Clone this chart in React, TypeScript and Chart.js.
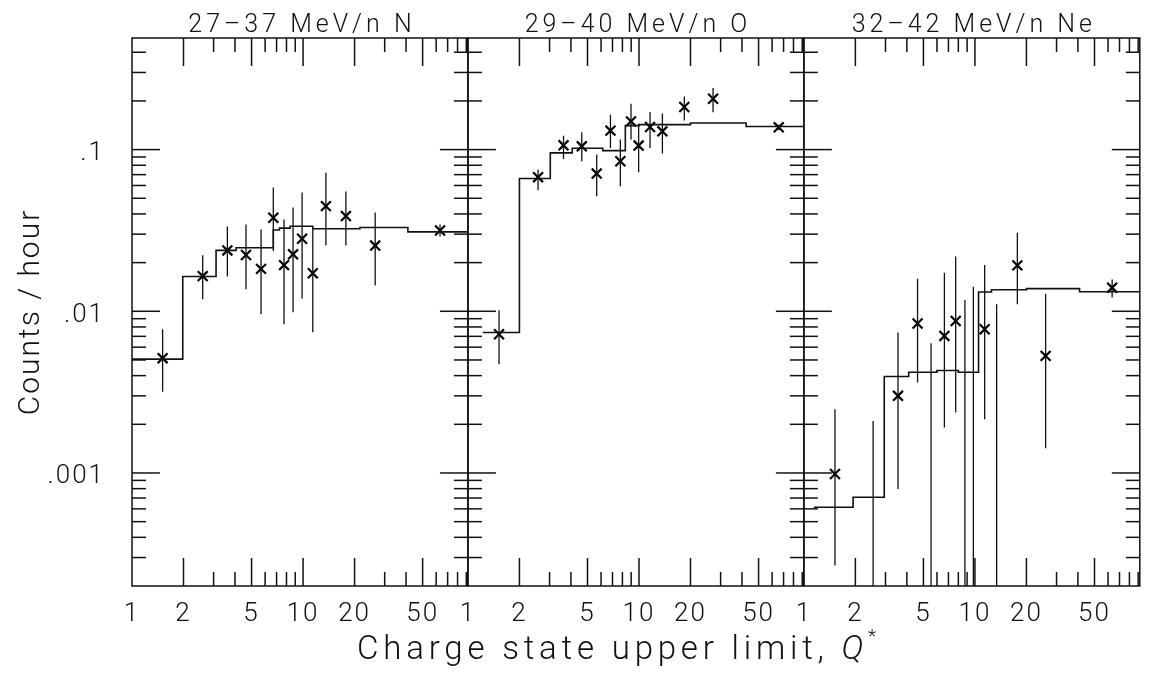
import React, { useEffect, useRef } from 'react';
import { Chart, registerables } from 'chart.js';

Chart.register(...registerables);

// ---------- axes / labels ----------
const panelTitles = ['27–37 MeV/n N', '29–40 MeV/n O', '32–42 MeV/n Ne'];
const xTickValues = [1, 2, 5, 10, 20, 50];
const yTickValues = [0.1, 0.01, 0.001];
const yTickLabels = ['.1', '.01', '.001'];
const yAxisTitle = 'Counts / hour';
const xAxisTitleMain = 'Charge state upper limit, ';
const xAxisTitleSymbol = 'Q';
const xAxisTitleSup = '*';
const X_MIN = 1;
const X_MAX = 92;
const Y_MIN = 0.0002;
const Y_MAX = 0.49;

// ---------- panel 1: 27-37 MeV/n N ----------
const nQ = [1.51, 2.59, 3.61, 4.64, 5.68, 6.7, 7.74, 8.74, 9.87, 11.4, 13.6, 17.8, 26.4, 63.2];
const nRate = [0.00513, 0.0165, 0.0238, 0.0223, 0.0183, 0.0379, 0.0193, 0.0225, 0.0281, 0.0172, 0.0447, 0.0388, 0.0255, 0.0316];
const nHigh = [0.00774, 0.0222, 0.0335, 0.0344, 0.0321, 0.0582, 0.037, 0.0439, 0.0543, 0.0325, 0.072, 0.0551, 0.0408, 0.0344];
const nLow = [0.00318, 0.01186, 0.01644, 0.01368, 0.00958, 0.0236, 0.00832, 0.00986, 0.012, 0.00742, 0.0255, 0.0255, 0.01446, 0.029];
const nStepEdges = [1, 1.98, 3.1, 4.06, 6.7, 7.27, 8.4, 11.4, 21.5, 41, 92];
const nStepLevels = [0.00506, 0.0164, 0.0238, 0.0247, 0.0318, 0.0327, 0.0336, 0.0324, 0.033, 0.031];

// ---------- panel 2: 29-40 MeV/n O ----------
const oQ = [1.52, 2.57, 3.62, 4.63, 5.66, 6.81, 7.78, 8.98, 9.95, 11.6, 13.7, 18.4, 27.1, 65.6];
const oRate = [0.00721, 0.0675, 0.1063, 0.1048, 0.0711, 0.131, 0.0847, 0.1495, 0.1059, 0.138, 0.1297, 0.1835, 0.2064, 0.1373];
const oHigh = [0.01014, 0.0753, 0.122, 0.128, 0.0931, 0.164, 0.1153, 0.192, 0.1446, 0.171, 0.167, 0.213, 0.24, 0.1427];
const oLow = [0.00471, 0.0561, 0.0876, 0.0847, 0.0515, 0.1024, 0.0593, 0.1153, 0.0724, 0.1024, 0.0945, 0.1516, 0.17, 0.1316];
const oStepEdges = [1.22, 2, 3.03, 4.07, 6.14, 8.32, 10, 20, 42.3, 92];
const oStepLevels = [0.00739, 0.0662, 0.0954, 0.102, 0.0985, 0.1406, 0.1427, 0.146, 0.139];

// ---------- panel 3: 32-42 MeV/n Ne ----------
const neQ = [1.52, 3.55, 4.62, 6.63, 7.72, 11.4, 17.7, 25.9, 63.4];
const neRate = [0.000986, 0.003, 0.0084, 0.00704, 0.00871, 0.00774, 0.01923, 0.0053, 0.014];
const neHigh = [0.00248, 0.0074, 0.0159, 0.01734, 0.0218, 0.0193, 0.0306, 0.01286, 0.01575];
const neLow = [0.000268, 0.000796, 0.00363, 0.00191, 0.00237, 0.00215, 0.01104, 0.00142, 0.01215];
// bins without a plotted rate: error bar runs down past the axis floor
const neEmptyQ = [2.54, 5.54, 8.74, 9.79, 13.4];
const neEmptyHigh = [0.0021, 0.00635, 0.01175, 0.0142, 0.01104];
const neEmptyLow = [0.00005, 0.00005, 0.00005, 0.00005, 0.00005];
const neStepEdges = [1.145, 1.94, 2.95, 4.1, 6, 8, 10.5, 12.5, 20, 40.9, 92];
const neStepLevels = [0.000614, 0.000708, 0.00395, 0.0042, 0.0043, 0.0042, 0.01316, 0.0136, 0.0138, 0.0132];

const FONT = 'Roboto, "DejaVu Sans", sans-serif';
const INK = '#111';

type Pt = { x: number; y: number | null };

function stepPoints(edges: number[], levels: number[]): Pt[] {
  const pts: Pt[] = levels.map((l, i) => ({ x: edges[i], y: l }));
  pts.push({ x: edges[edges.length - 1], y: levels[levels.length - 1] });
  return pts;
}
function barPoints(q: number[], lo: number[], hi: number[]): Pt[] {
  const pts: Pt[] = [];
  q.forEach((x, i) => {
    pts.push({ x, y: lo[i] }, { x, y: hi[i] }, { x, y: null });
  });
  return pts;
}
function markPoints(q: number[], r: number[]): Pt[] {
  return q.map((x, i) => ({ x, y: r[i] }));
}

function panelDatasets(axis: string, q: number[], r: number[], lo: number[], hi: number[], edges: number[], levels: number[]) {
  return [
    {
      label: axis + '-model',
      xAxisID: axis,
      yAxisID: 'y',
      data: stepPoints(edges, levels),
      stepped: 'before',
      borderColor: INK,
      borderWidth: 1.6,
      pointRadius: 0,
      fill: false,
    },
    {
      label: axis + '-err',
      xAxisID: axis,
      yAxisID: 'y',
      data: barPoints(q, lo, hi),
      borderColor: INK,
      borderWidth: 1.3,
      pointRadius: 0,
      spanGaps: false,
      fill: false,
    },
    {
      label: axis + '-pts',
      xAxisID: axis,
      yAxisID: 'y',
      data: markPoints(q, r),
      showLine: false,
      pointStyle: 'crossRot',
      pointRadius: 7,
      pointBorderWidth: 2.2,
      pointBorderColor: '#000',
      borderColor: '#000',
    },
  ];
}

const panelIds = ['x1', 'x2', 'x3'];

const framePlugin = {
  id: 'panelFrames',
  beforeDraw(chart: any) {
    chart.ctx.letterSpacing = '2px';
  },
  afterDatasetsDraw(chart: any) {
    const ctx = chart.ctx as CanvasRenderingContext2D;
    const ys = chart.scales.y;
    ctx.save();
    ctx.letterSpacing = '0px';
    ctx.strokeStyle = INK;
    ctx.lineWidth = 1.5;
    const seg = (a: number, b: number, c: number, d: number) => {
      ctx.beginPath();
      ctx.moveTo(a, b);
      ctx.lineTo(c, d);
      ctx.stroke();
    };
    panelIds.forEach((id) => {
      const xs = chart.scales[id];
      const L = xs.left, R = xs.right, T = ys.top, B = ys.bottom;
      ctx.strokeRect(L, T, R - L, B - T);
      for (let d = 0; d <= 1; d++) {
        for (let m = 1; m <= 9; m++) {
          const v = m * Math.pow(10, d);
          if (v <= X_MIN || v >= X_MAX) continue;
          const px = xs.getPixelForValue(v);
          const len = m === 1 || m === 2 || m === 5 ? 28 : 14;
          seg(px, B, px, B - len);
          seg(px, T, px, T + len);
        }
      }
      for (let d = -4; d <= 0; d++) {
        for (let m = 1; m <= 9; m++) {
          const v = m * Math.pow(10, d);
          if (v <= Y_MIN || v >= Y_MAX) continue;
          const py = ys.getPixelForValue(v);
          const len = m === 1 ? 28 : 14;
          seg(L, py, L + len, py);
          seg(R, py, R - len, py);
        }
      }
    });
    ctx.restore();
  },
  afterDraw(chart: any) {
    const ctx = chart.ctx as CanvasRenderingContext2D;
    ctx.save();
    ctx.fillStyle = INK;
    // panel titles
    ctx.font = `300 25px ${FONT}`;
    ctx.letterSpacing = '4px';
    ctx.textAlign = 'center';
    ctx.textBaseline = 'alphabetic';
    panelIds.forEach((id, i) => {
      const xs = chart.scales[id];
      ctx.fillText(panelTitles[i], (xs.left + xs.right) / 2 + 2, 32);
    });
    // x axis title
    ctx.textAlign = 'left';
    ctx.letterSpacing = '4.8px';
    const mainFont = `300 33px ${FONT}`;
    const symFont = `italic 300 33px ${FONT}`;
    const supFont = `300 19px ${FONT}`;
    ctx.font = mainFont;
    const w1 = ctx.measureText(xAxisTitleMain).width;
    ctx.font = symFont;
    const w2 = ctx.measureText(xAxisTitleSymbol).width;
    ctx.font = supFont;
    const w3 = ctx.measureText(xAxisTitleSup).width;
    const cx = 619;
    let x0 = cx - (w1 + w2 + w3) / 2;
    const base = 659;
    ctx.font = mainFont;
    ctx.fillText(xAxisTitleMain, x0, base);
    x0 += w1;
    ctx.font = symFont;
    ctx.fillText(xAxisTitleSymbol, x0, base);
    x0 += w2;
    ctx.font = supFont;
    ctx.fillText(xAxisTitleSup, x0, base - 17);
    ctx.restore();
  },
};

function xScale() {
  return {
    type: 'logarithmic',
    position: 'bottom',
    stack: 'panels',
    stackWeight: 1,
    min: X_MIN,
    max: X_MAX,
    grid: { display: false },
    border: { display: false },
    afterBuildTicks: (s: any) => {
      s.ticks = xTickValues.map((v) => ({ value: v }));
    },
    afterFit: (s: any) => {
      s.height = 94;
    },
    ticks: {
      autoSkip: false,
      maxRotation: 0,
      minRotation: 0,
      padding: 5,
      color: INK,
      font: { family: FONT, size: 26, weight: '300' },
      callback: (v: number) => String(v),
    },
  };
}

export default function App() {
  const ref = useRef<HTMLCanvasElement>(null);
  useEffect(() => {
    const canvas = ref.current;
    if (!canvas) return;
    const datasets = [
      ...panelDatasets('x1', nQ, nRate, nLow, nHigh, nStepEdges, nStepLevels),
      ...panelDatasets('x2', oQ, oRate, oLow, oHigh, oStepEdges, oStepLevels),
      ...panelDatasets('x3', neQ, neRate, neLow, neHigh, neStepEdges, neStepLevels),
      {
        label: 'x3-empty',
        xAxisID: 'x3',
        yAxisID: 'y',
        data: barPoints(neEmptyQ, neEmptyLow, neEmptyHigh),
        borderColor: INK,
        borderWidth: 1.3,
        pointRadius: 0,
        spanGaps: false,
        fill: false,
      },
    ];
    const chart = new Chart(canvas, {
      type: 'line',
      data: { datasets } as any,
      options: {
        responsive: false,
        animation: false,
        devicePixelRatio: 1,
        events: [],
        layout: { padding: { top: 38, right: 5, bottom: 0, left: 0 } },
        plugins: { legend: { display: false }, tooltip: { enabled: false }, title: { display: false } },
        scales: {
          x1: xScale(),
          x2: xScale(),
          x3: xScale(),
          y: {
            type: 'logarithmic',
            position: 'left',
            min: Y_MIN,
            max: Y_MAX,
            grid: { display: false },
            border: { display: false },
            afterBuildTicks: (s: any) => {
              s.ticks = yTickValues.map((v) => ({ value: v }));
            },
            afterFit: (s: any) => {
              s.width = 132;
            },
            title: {
              display: true,
              text: yAxisTitle,
              color: INK,
              font: { family: FONT, size: 30, weight: '300' },
              padding: { top: 13, bottom: 0 },
            },
            ticks: {
              autoSkip: false,
              padding: 19,
              labelOffset: 4,
              color: INK,
              font: { family: FONT, size: 26, weight: '300' },
              callback: (v: number) => {
                const i = yTickValues.findIndex((t) => Math.abs(t - v) / t < 1e-6);
                return i >= 0 ? yTickLabels[i] : '';
              },
            },
          },
        } as any,
      },
      plugins: [framePlugin],
    } as any);
    return () => chart.destroy();
  }, []);
  return (
    <div style={{ position: 'fixed', left: 0, top: 0, width: 1149, height: 680, background: '#fff' }}>
      <canvas ref={ref} width={1149} height={680} style={{ display: 'block', width: 1149, height: 680 }} />
    </div>
  );
}
